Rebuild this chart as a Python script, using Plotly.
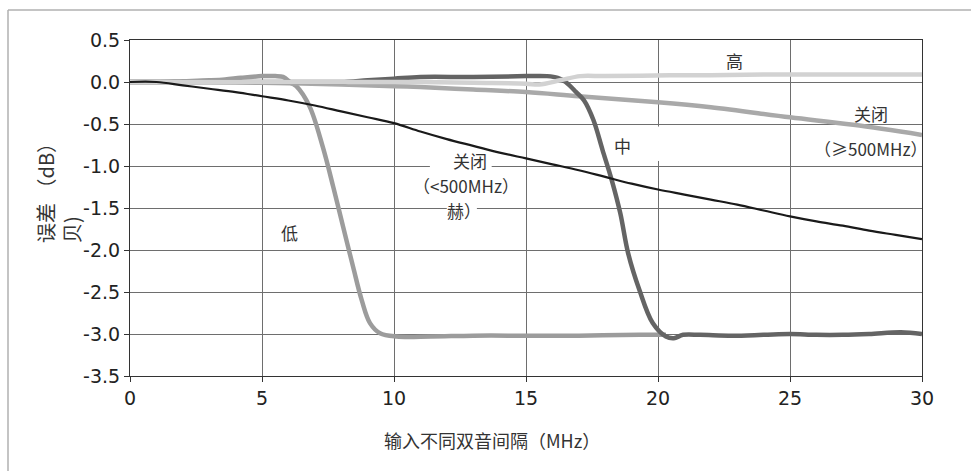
import plotly.graph_objects as go

# Two-tone spacing sweep: amplitude error per filter setting
x_off_lo = [0, 1, 2, 3, 4, 5, 6, 7, 8, 9, 10, 11, 12, 13, 14, 15, 16, 17, 18, 19,
            20, 21, 22, 23, 24, 25, 26, 27, 28, 29, 30]
y_off_lo = [0.0, 0.0, -0.04, -0.08, -0.12, -0.17, -0.22, -0.28, -0.35, -0.42, -0.49,
            -0.59, -0.68, -0.76, -0.84, -0.91, -0.98, -1.05, -1.13, -1.21, -1.28,
            -1.34, -1.40, -1.46, -1.53, -1.60, -1.66, -1.71, -1.77, -1.82, -1.87]

x_low = [0, 1, 2, 3, 3.6, 4.2, 5, 5.5, 5.8, 6.1, 6.3, 6.8, 7.3, 7.7, 8.07, 8.45,
         8.78, 9.09, 9.47, 10.1, 11.4, 13, 15, 17, 19.3, 20.3]
y_low = [0.0, 0.0, 0.01, 0.02, 0.03, 0.05, 0.07, 0.07, 0.06, -0.01, -0.05, -0.29,
         -0.77, -1.25, -1.72, -2.2, -2.6, -2.87, -2.99, -3.03, -3.03, -3.02, -3.02,
         -3.02, -3.01, -3.01]

x_mid = [0, 3, 6, 7, 8, 9, 10, 11, 13, 15, 15.8, 16.2, 16.5, 16.9, 17.2, 17.55, 17.9,
         18.25, 18.57, 18.87, 19.3, 19.8, 20.3, 20.6, 20.95, 21.6, 22.8, 24, 25, 26,
         27, 28, 29.2, 30]
y_mid = [0.0, 0.0, 0.0, 0.0, 0.0, 0.02, 0.04, 0.06, 0.06, 0.07, 0.07, 0.05, 0.0,
         -0.12, -0.22, -0.45, -0.81, -1.17, -1.56, -2.04, -2.48, -2.87, -3.03, -3.05,
         -3.01, -3.01, -3.02, -3.01, -3.0, -3.01, -3.01, -3.0, -2.98, -3.0]

x_high = [0, 5, 10, 11, 13, 15, 15.5, 16.3, 17.05, 18, 20.45, 22, 24, 26, 28, 30]
y_high = [0.0, 0.0, 0.0, 0.0, -0.01, -0.02, -0.03, 0.02, 0.07, 0.07, 0.08, 0.08,
          0.09, 0.09, 0.09, 0.09]

x_off_hi = [0, 3, 5, 8, 10, 11, 13, 15, 17, 20, 22, 25, 27.4, 30]
y_off_hi = [0.0, 0.0, -0.01, -0.03, -0.05, -0.06, -0.09, -0.12, -0.17, -0.24, -0.30,
            -0.42, -0.51, -0.63]

x_ticks = [0, 5, 10, 15, 20, 25, 30]
y_ticks = [0.5, 0.0, -0.5, -1.0, -1.5, -2.0, -2.5, -3.0, -3.5]
y_tick_text = ["0.5", "0.0", "-0.5", "-1.0", "-1.5", "-2.0", "-2.5", "-3.0", "-3.5"]

CJK = "Noto Sans CJK SC"
NUM = "DejaVu Sans"

fig = go.Figure()
fig.add_trace(go.Scatter(x=x_low, y=y_low, mode="lines", name="低",
                         line=dict(color="#9c9c9c", width=4.5, shape="spline")))
fig.add_trace(go.Scatter(x=x_off_hi, y=y_off_hi, mode="lines", name="关闭 ≥500MHz",
                         line=dict(color="#a9a9a9", width=4.5, shape="spline")))
fig.add_trace(go.Scatter(x=x_mid, y=y_mid, mode="lines", name="中",
                         line=dict(color="#646464", width=4.5, shape="spline")))
fig.add_trace(go.Scatter(x=x_high, y=y_high, mode="lines", name="高",
                         line=dict(color="#d2d2d2", width=4.5, shape="spline")))
fig.add_trace(go.Scatter(x=x_off_lo, y=y_off_lo, mode="lines", name="关闭 <500MHz",
                         line=dict(color="#1a1a1a", width=2.2, shape="spline")))

axis_common = dict(showline=True, linecolor="#333333", linewidth=1, mirror=True,
                   showgrid=True, gridcolor="#6e6e6e", gridwidth=1,
                   ticks="outside", ticklen=5, tickcolor="#333333",
                   tickfont=dict(family=NUM, size=19, color="#222222"),
                   zeroline=False)

fig.update_xaxes(range=[0, 30], tickvals=x_ticks, **axis_common)
fig.update_yaxes(range=[-3.5, 0.5], tickvals=y_ticks, ticktext=y_tick_text, **axis_common)

label_font = dict(family=CJK, size=17, color="#333333")
annotations = [
    dict(x=22.9, y=0.26, text="高"),
    dict(x=28.07, y=-0.37, text="关闭"),
    dict(x=28.05, y=-0.79, text="（≥500MHz）"),
    dict(x=18.67, y=-0.75, text="中"),
    dict(x=12.88, y=-0.94, text="关闭"),
    dict(x=12.73, y=-1.23, text="（<500MHz）"),
    dict(x=12.65, y=-1.525, text="赫）"),
    dict(x=6.06, y=-1.79, text="低"),
]
for a in annotations:
    fig.add_annotation(xref="x", yref="y", showarrow=False, font=label_font,
                       borderpad=0, **a)

# axis titles
fig.add_annotation(xref="paper", yref="paper", x=(492 - 130) / 792, y=(376 - 440) / 336,
                   xanchor="center", yanchor="middle",
                   text="输入不同双音间隔（MHz）", showarrow=False,
                   font=dict(family=CJK, size=18, color="#333333"))
fig.add_annotation(xref="paper", yref="paper", x=(58 - 130) / 792, y=(376 - 188) / 336,
                   xanchor="center", yanchor="middle",
                   text="误差 （dB）<br>贝)", showarrow=False, textangle=-90, align="left",
                   font=dict(family=CJK, size=20, color="#333333"))

shapes = [
    # outer light frame (left and top edges)
    dict(type="line", xref="paper", yref="paper", x0=(8 - 130) / 792, x1=(8 - 130) / 792,
         y0=(376 - 471) / 336, y1=(376 - 10) / 336, line=dict(color="#b0b0b0", width=1.5)),
    dict(type="line", xref="paper", yref="paper", x0=(8 - 130) / 792, x1=(971 - 130) / 792,
         y0=(376 - 10) / 336, y1=(376 - 10) / 336, line=dict(color="#b0b0b0", width=1.5)),
    # white breaks in the grid behind labels
    dict(type="rect", xref="x", yref="y", x0=19.8, x1=20.2, y0=-0.94, y1=-0.53,
         fillcolor="white", line=dict(width=0), layer="between"),
    dict(type="rect", xref="x", yref="y", x0=11.36, x1=13.7, y0=-1.03, y1=-0.97,
         fillcolor="white", line=dict(width=0), layer="between"),
    dict(type="rect", xref="x", yref="y", x0=12.0, x1=13.14, y0=-1.53, y1=-1.47,
         fillcolor="white", line=dict(width=0), layer="between"),
]
fig.update_layout(shapes=shapes)

fig.update_layout(
    width=971, height=471,
    margin=dict(l=130, r=49, t=40, b=95),
    paper_bgcolor="white", plot_bgcolor="white",
    showlegend=False,
)

fig.write_html("out.html")
